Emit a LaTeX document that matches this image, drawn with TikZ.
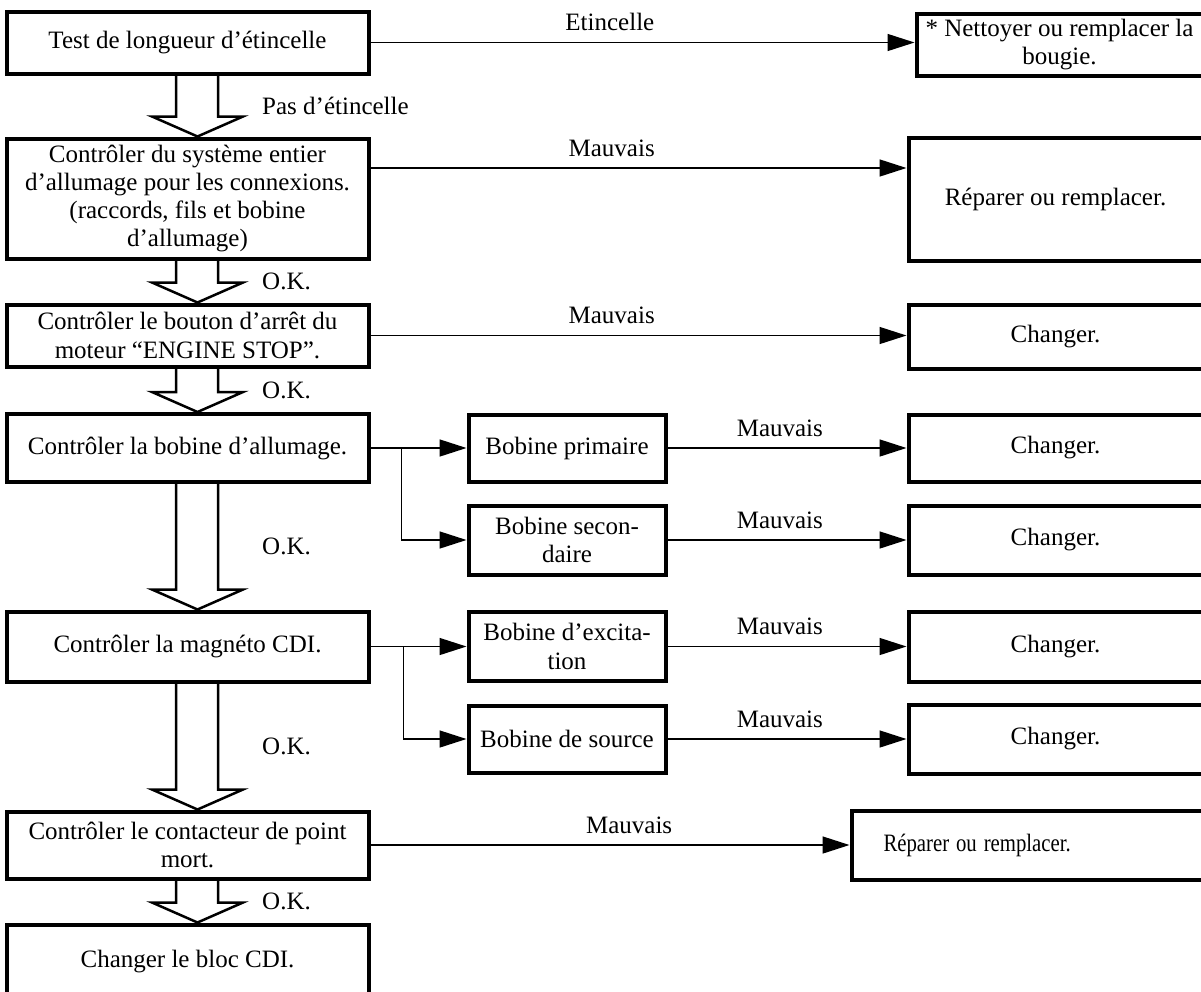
\documentclass[tikz,border=0pt]{standalone}
\usepackage{fontspec}
\setmainfont{Liberation Serif}
\usetikzlibrary{arrows.meta}

% hollow down arrow between two boxes, with its label on the right
\newcommand{\okarrow}[4]{%
  \draw[hollow] ([xshift=-11.5pt]#1.south)
    -- ([xshift=-11.5pt,yshift=20pt]#2.north)
    -- ([xshift=-35.5pt,yshift=20pt]#2.north)
    -- ([xshift=10pt]#2.north)
    -- ([xshift=55.5pt,yshift=20pt]#2.north)
    -- ([xshift=30.5pt,yshift=20pt]#2.north)
    -- ([xshift=30.5pt]#1.south);
  \path (#1.south) -- node[oklabel] (#3) {#4} (#2.north);}

\begin{document}
\begin{tikzpicture}[
  x=1pt, y=-1pt,
  every node/.style = {font=\fontsize{25}{28.3}\selectfont},
  box/.style = {shape=rectangle, draw, line width=4pt, align=center,
    inner xsep=4pt},
  flow/.style = {line width=1.5pt, -{Triangle[length=27pt,width=17pt]}},
  hollow/.style = {line width=2.5pt, line join=miter},
  lbl/.style = {above, inner sep=11pt},
  oklabel/.style = {anchor=west, xshift=74.5pt, inner sep=0pt}
  ]
  \useasboundingbox (0,0) rectangle (1201,991);

  % main column
  \node[box, minimum width=362pt, minimum height=62pt] (test) at (187.5,42.5)
    {Test de longueur d’étincelle};
  \node[box, minimum width=362pt, minimum height=120pt] (systeme) at (187.5,198.5)
    {Contrôler du système entier\\d’allumage pour les connexions.\\(raccords, fils et bobine\\d’allumage)};
  \node[box, minimum width=362pt, minimum height=62pt] (bouton) at (187.5,335.5)
    {Contrôler le bouton d’arrêt du\\moteur “ENGINE STOP”.};
  \node[box, minimum width=362pt, minimum height=68pt] (bobine) at (187.5,448)
    {Contrôler la bobine d’allumage.};
  \node[box, minimum width=362pt, minimum height=70pt] (magneto) at (187.5,646.5)
    {Contrôler la magnéto CDI.};
  \node[box, minimum width=362pt, minimum height=67pt] (contact) at (187.5,845)
    {Contrôler le contacteur de point\\mort.};
  \node[box, minimum width=362pt, minimum height=75pt] (bloc) at (187.5,962)
    {Changer le bloc CDI.};

  % coils to check
  \node[box, minimum width=197pt, minimum height=67pt] (prim) at (567,448)
    {Bobine primaire};
  \node[box, minimum width=197pt, minimum height=69pt] (sec) at (567,540)
    {Bobine secon-\\daire};
  \node[box, minimum width=197pt, minimum height=69pt] (excit) at (567,646.5)
    {Bobine d’excita-\\tion};
  \node[box, minimum width=197pt, minimum height=67pt] (source) at (567,739)
    {Bobine de source};

  % remedies
  \node[box, minimum width=286pt, minimum height=62pt] (nett) at (1059.5,44.5)
    {* Nettoyer ou remplacer la\\bougie.};
  \node[box, minimum width=294pt, minimum height=123pt] (rep1) at (1055.5,199)
    {Réparer ou remplacer.};
  \node[box, minimum width=294pt, minimum height=64pt] (chg1) at (1055.5,336.5)
    {Changer.};
  \node[box, minimum width=294pt, minimum height=67pt] (chg2) at (1055.5,448)
    {Changer.};
  \node[box, minimum width=294pt, minimum height=69pt] (chg3) at (1055.5,540)
    {Changer.};
  \node[box, minimum width=294pt, minimum height=70pt] (chg4) at (1055.5,646.5)
    {Changer.};
  \node[box, minimum width=294pt, minimum height=69pt] (chg5) at (1055.5,739)
    {Changer.};
  \node[box, minimum width=351pt, minimum height=69pt, inner xsep=30pt,
    text width=287pt, align=left] (rep2) at (1027,845)
    {\scalebox{0.83}[1]{Réparer ou remplacer.}};

  % hollow arrows down the main column
  \okarrow{test}{systeme}{pas}{Pas d’étincelle}
  \okarrow{systeme}{bouton}{ok1}{O.K.}
  \okarrow{bouton}{bobine}{ok2}{O.K.}
  \okarrow{bobine}{magneto}{ok3}{O.K.}
  \okarrow{magneto}{contact}{ok4}{O.K.}
  \okarrow{contact}{bloc}{ok5}{O.K.}

  % connectors to the right
  \draw[flow] (test.east) -- node[lbl, pos=0.44] (etinc) {Etincelle} (test.east -| nett.west);
  \draw[flow] ([yshift=30.5pt]systeme.east) -- node[lbl, pos=0.45] (mv1) {Mauvais}
    ([yshift=30.5pt]systeme.east -| rep1.west);
  \draw[flow] (bouton.east) -- node[lbl, pos=0.45] (mv2) {Mauvais} (bouton.east -| chg1.west);

  \draw[flow] (bobine.east) -- (bobine.east -| prim.west);
  \draw[flow] ([xshift=31pt]bobine.east) |- (sec.west);
  \draw[flow] (magneto.east) -- (magneto.east -| excit.west);
  \draw[flow] ([xshift=33pt]magneto.east) |- (source.west);

  \draw[flow] (prim.east) -- node[lbl, pos=0.47] (mv3) {Mauvais} (prim.east -| chg2.west);
  \draw[flow] (sec.east) -- node[lbl, pos=0.47] (mv4) {Mauvais} (sec.east -| chg3.west);
  \draw[flow] (excit.east) -- node[lbl, pos=0.47] (mv5) {Mauvais} (excit.east -| chg4.west);
  \draw[flow] (source.east) -- node[lbl, pos=0.47] (mv6) {Mauvais} (source.east -| chg5.west);
  \draw[flow] (contact.east) -- node[lbl, pos=0.54] (mv7) {Mauvais} (contact.east -| rep2.west);
\end{tikzpicture}
\end{document}
